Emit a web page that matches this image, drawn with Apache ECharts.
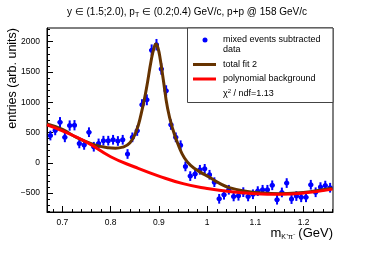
<!DOCTYPE html>
<html><head><meta charset="utf-8">
<script src="https://cdn.jsdelivr.net/npm/echarts@6/dist/echarts.min.js"></script>
<style>html,body{margin:0;padding:0;background:#fff}#c{width:374px;height:253px}</style>
</head><body><div id="c"></div>
<script>
// ---- data ----
const binCenters = [0.675,0.685,0.695,0.705,0.715,0.725,0.735,0.745,0.755,0.765,0.775,0.785,0.795,0.805,0.815,0.825,0.835,0.845,0.855,0.865,0.875,0.885,0.895,0.905,0.915,0.925,0.935,0.945,0.955,0.965,0.975,0.985,0.995,1.005,1.015,1.025,1.035,1.045,1.055,1.065,1.075,1.085,1.095,1.105,1.115,1.125,1.135,1.145,1.155,1.165,1.175,1.185,1.195,1.205,1.215,1.225,1.235,1.245,1.255];
const entries = [450,535,670,420,615,620,320,295,505,265,320,365,365,380,360,380,145,420,530,960,1040,1860,1950,1550,1190,630,420,290,-60,-220,-185,-116,-100,-198,-320,-595,-528,-446,-556,-545,-485,-556,-520,-468,-446,-446,-372,-610,-490,-335,-600,-550,-570,-570,-363,-487,-402,-377,-412];
const errors = [80,80,85,80,85,85,80,80,80,80,80,80,80,80,80,80,80,80,85,90,90,95,95,95,90,85,80,80,80,80,80,80,80,80,80,80,80,80,80,80,80,80,80,80,80,80,80,80,80,80,80,80,80,80,80,80,80,80,80];
const totalFitX = [0.668,0.70,0.73,0.765,0.795,0.81,0.825,0.84,0.853,0.863,0.874,0.884,0.89,0.894,0.898,0.903,0.909,0.918,0.929,0.941,0.953,0.967,0.985,1.005,1.025,1.046,1.08,1.115,1.15,1.185,1.22,1.26];
const totalFitY = [640,550,415,300,248,240,258,330,520,800,1220,1690,1900,1960,1900,1700,1380,900,550,280,80,-50,-150,-240,-335,-410,-470,-500,-510,-500,-470,-420];
const bgX = [0.668,0.70,0.75,0.80,0.85,0.90,0.95,1.00,1.05,1.10,1.15,1.20,1.26];
const bgY = [625,525,340,100,-70,-220,-345,-425,-480,-510,-520,-500,-435];
const xMajorTicks = [0.7,0.8,0.9,1.0,1.1,1.2];
const xMinorTicks = [0.68,0.72,0.74,0.76,0.78,0.82,0.84,0.86,0.88,0.92,0.94,0.96,0.98,1.02,1.04,1.06,1.08,1.12,1.14,1.16,1.18,1.22,1.24,1.26];
const yMajorTicks = [-500,0,500,1000,1500,2000];
const yMinorTicks = [-800,-700,-600,-400,-300,-200,-100,100,200,300,400,600,700,800,900,1100,1200,1300,1400,1600,1700,1800,1900,2100,2200];
const xRange = [0.668,1.261];
const yRange = [-813,2226];
const binHalfWidth = 0.005;

const FONT = 'Liberation Sans, Arial, Helvetica, sans-serif';
const chart = echarts.init(document.getElementById('c'), null, {renderer:'canvas'});

const pointData = binCenters.map((x,i)=>[x, entries[i], errors[i]]);
const totalData = totalFitX.map((x,i)=>[x,totalFitY[i]]);
const bgData = bgX.map((x,i)=>[x,bgY[i]]);

function mkX(major){
  return {
    type:'value', min:xRange[0], max:xRange[1], position:'bottom', gridIndex:0,
    axisLine:{show:major, onZero:false, lineStyle:{color:'#000', width:1}},
    splitLine:{show:false},
    axisTick:{show:true, inside:true, length:major?6:3, customValues: major?xMajorTicks:xMinorTicks, lineStyle:{color:'#000', width:1}},
    axisLabel:{show:major, customValues: xMajorTicks, margin:6, color:'#000', fontFamily:FONT, fontSize:8.5,
      formatter:v=>String(Math.round(v*10)/10)}
  };
}
function mkY(major){
  return {
    type:'value', min:yRange[0], max:yRange[1], position:'left', gridIndex:0,
    axisLine:{show:major, onZero:false, lineStyle:{color:'#000', width:1}},
    splitLine:{show:false},
    axisTick:{show:true, inside:true, length:major?6:3, customValues: major?yMajorTicks:yMinorTicks, lineStyle:{color:'#000', width:1}},
    axisLabel:{show:major, customValues: yMajorTicks, margin:7, color:'#000', fontFamily:FONT, fontSize:8.5,
      formatter:v=>v<0?'\u2212'+Math.abs(v):String(v)}
  };
}

const option = {
  animation:false,
  backgroundColor:'#fff',
  grid:{left:47, right:41, top:28, bottom:41, show:true, borderColor:'#000', borderWidth:1, backgroundColor:'transparent'},
  xAxis:[mkX(true), mkX(false)],
  yAxis:[mkY(true), mkY(false)],
  series:[
    {
      type:'custom', xAxisIndex:0, yAxisIndex:0, z:2,
      data: pointData,
      renderItem:function(params, api){
        const x = api.value(0), y = api.value(1), e = api.value(2);
        const top = api.coord([x, y+e]);
        const bot = api.coord([x, y-e]);
        const l = api.coord([x-binHalfWidth, y]);
        const r = api.coord([x+binHalfWidth, y]);
        const c = api.coord([x, y]);
        return {type:'group', children:[
          {type:'line', shape:{x1:top[0],y1:top[1],x2:bot[0],y2:bot[1]}, style:{stroke:'#0000ff', lineWidth:2}},
          {type:'line', shape:{x1:l[0],y1:l[1],x2:r[0],y2:r[1]}, style:{stroke:'#0000ff', lineWidth:2}},
          {type:'circle', shape:{cx:c[0], cy:c[1], r:2.5}, style:{fill:'#0000ff'}}
        ]};
      }
    },
    {type:'line', xAxisIndex:0, yAxisIndex:0, z:3, data:totalData, smooth:0.5, showSymbol:false, symbol:'none',
      lineStyle:{color:'#663300', width:3}},
    {type:'line', xAxisIndex:0, yAxisIndex:0, z:4, data:bgData, smooth:0.5, showSymbol:false, symbol:'none',
      lineStyle:{color:'#ff0000', width:3}}
  ],
  graphic:[
    // title
    {type:'text', left:'center', top:7, style:{
      text:'y \u2208 (1.5;2.0), p{sub|T} \u2208 (0.2;0.4) GeV/c, p+p @ 158 GeV/c',
      fontFamily:FONT, fontSize:10, fill:'#000',
      rich:{sub:{fontSize:7, verticalAlign:'bottom', padding:[6,0,0,0], fontFamily:FONT}}}},
    // y axis title
    {type:'text', x:6, y:28, rotation:Math.PI/2, style:{
      text:'entries (arb. units)', fontFamily:FONT, fontSize:12.5, fill:'#000', align:'right', verticalAlign:'top'}},
    // x axis title
    {type:'text', right:41, top:227, style:{
      text:'m{sub|K\u207A\u03C0\u207B} (GeV)', fontFamily:FONT, fontSize:13, fill:'#000',
      rich:{sub:{fontSize:7, padding:[8,0,0,0], fontFamily:FONT}}}},
    // legend box
    {type:'rect', shape:{x:187.5, y:28, width:145.5, height:74.5}, z:10,
      style:{fill:'#fff', stroke:'#444', lineWidth:1}},
    {type:'circle', shape:{cx:205, cy:40, r:2.5}, z:11, style:{fill:'#0000ff'}},
    {type:'text', x:223, y:40, z:11, style:{text:'mixed events subtracted', fontFamily:FONT, fontSize:9, fill:'#000', verticalAlign:'middle'}},
    {type:'text', x:223, y:50, z:11, style:{text:'data', fontFamily:FONT, fontSize:9, fill:'#000', verticalAlign:'middle'}},
    {type:'line', shape:{x1:193, y1:64.5, x2:216, y2:64.5}, z:11, style:{stroke:'#663300', lineWidth:3}},
    {type:'text', x:223, y:64.5, z:11, style:{text:'total fit 2', fontFamily:FONT, fontSize:9, fill:'#000', verticalAlign:'middle'}},
    {type:'line', shape:{x1:193, y1:79, x2:216, y2:79}, z:11, style:{stroke:'#ff0000', lineWidth:3}},
    {type:'text', x:223, y:79, z:11, style:{text:'polynomial background', fontFamily:FONT, fontSize:9, fill:'#000', verticalAlign:'middle'}},
    {type:'text', x:223, y:94, z:11, style:{text:'\u03C7{sup|2} / ndf=1.13', fontFamily:FONT, fontSize:9, fill:'#000', verticalAlign:'middle',
      rich:{sup:{fontSize:6, padding:[0,0,5,0], fontFamily:FONT}}}}
  ]
};
chart.setOption(option);
</script></body></html>
